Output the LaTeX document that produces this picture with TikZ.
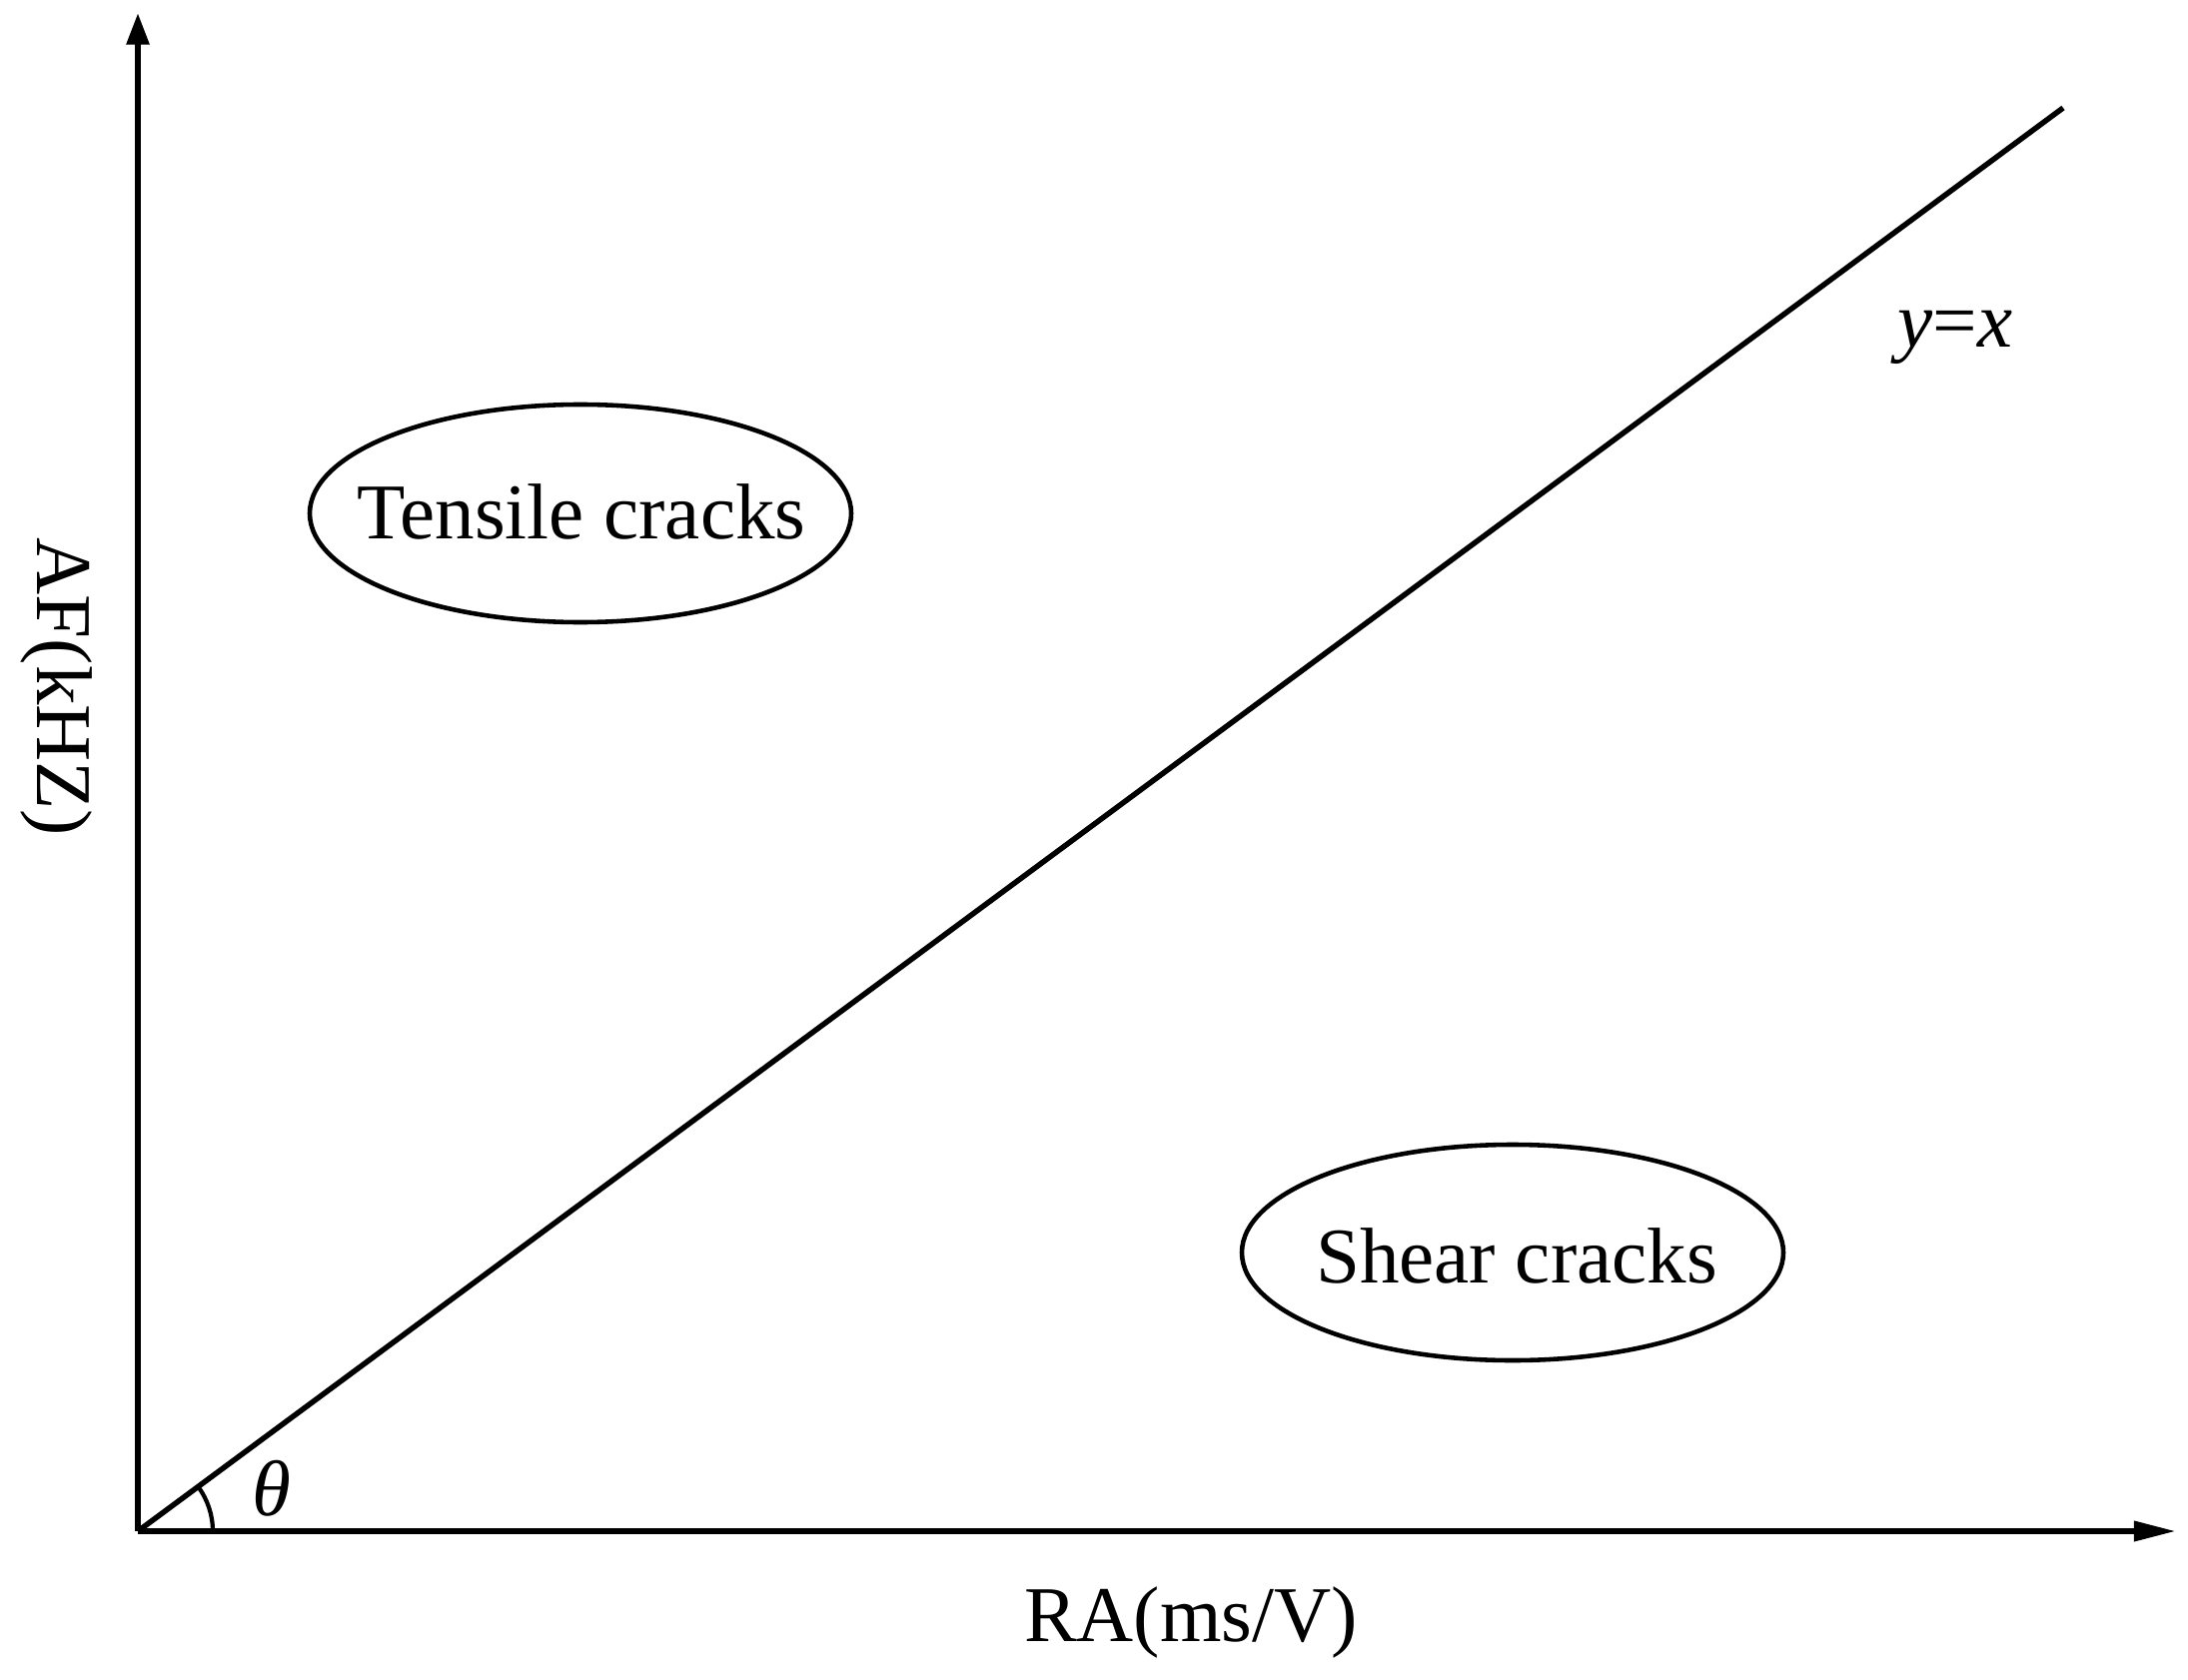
\documentclass[tikz,border=0pt]{standalone}
\usepackage{fontspec}
\setmainfont{Liberation Serif}
\usetikzlibrary{arrows.meta}
\begin{document}
\begin{tikzpicture}[x=0.02cm,y=-0.02cm,
  axis/.style={line width=3.4pt},
  diag/.style={line width=3.1pt},
  zone/.style={draw,line width=2.6pt},
  lbl/.style={font=\fontsize{45}{51}\selectfont}]
\useasboundingbox (0,0) rectangle (2190,1682);
\coordinate (O) at (138,1533);
\coordinate (Ytip) at (138,13);
\coordinate (Xtip) at (2178,1533);
\coordinate (Dend) at (2065,108);
\draw[axis,-{Triangle[length=18pt,width=12.5pt]}] (O) -- (Ytip);
\draw[axis,-{Triangle[length=24pt,width=11pt]}] (O) -- (Xtip);
\draw[diag] (O) -- (Dend);
\draw[line width=2.4pt] ([xshift=1.5cm]O) arc[start angle=0,end angle=36.5,radius=1.5cm];
\draw[zone] (581,514) ellipse [x radius=271, y radius=109];
\draw[zone] (1514,1254) ellipse [x radius=271, y radius=108];
\node[lbl] (tens) at (582,512) {Tensile cracks};
\node[lbl] (shear) at (1518,1257) {Shear cracks};
\node[lbl] (theta) at (272,1490) {\itshape θ};
\node[lbl] (yx) at (1957,338) {\itshape y\upshape =\itshape x};
\node[lbl] (ra) at (1192,1624) {RA(ms/V)};
\node[lbl,rotate=-90] (af) at (57,688) {AF(kHZ)};
\end{tikzpicture}
\end{document}
